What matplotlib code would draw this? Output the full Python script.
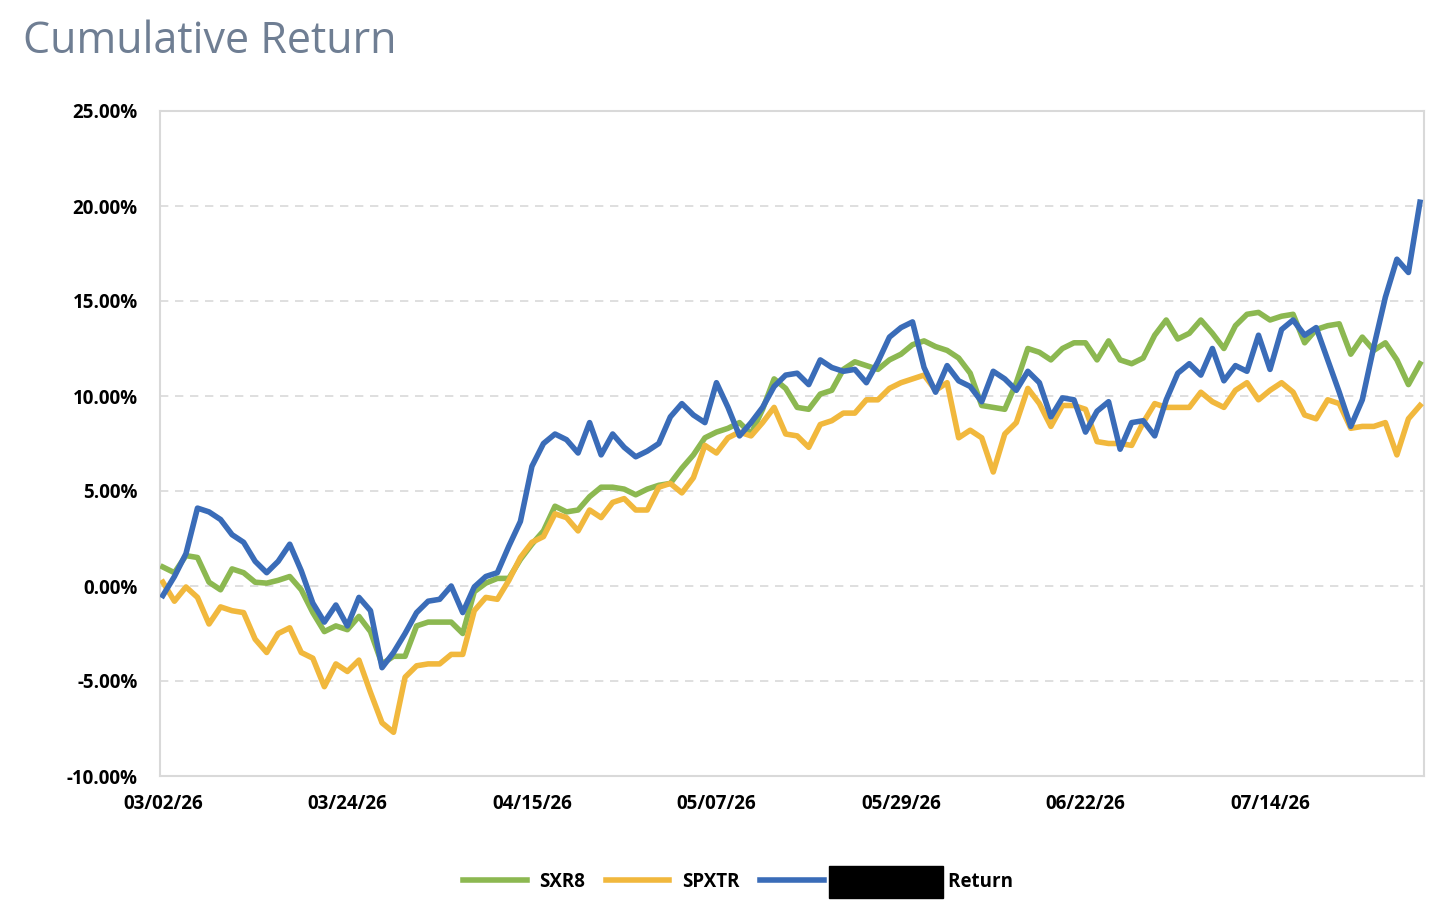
import numpy as np
import matplotlib
matplotlib.use("Agg")
import matplotlib.pyplot as plt
from matplotlib.patches import Rectangle
from matplotlib.ticker import FuncFormatter

plt.rcParams['font.family'] = ['Open Sans', 'DejaVu Sans']

# cumulative returns in %, one value per trading day from 03/02/26
sxr8 = [1.0, 0.7, 1.6, 1.5, 0.2, -0.2, 0.9, 0.7, 0.2, 0.15,
        0.3, 0.5, -0.2, -1.4, -2.4, -2.1, -2.3, -1.6, -2.4, -4.1,
        -3.7, -3.7, -2.1, -1.9, -1.9, -1.9, -2.5, -0.3, 0.15, 0.4,
        0.4, 1.4, 2.2, 2.9, 4.2, 3.9, 4.0, 4.7, 5.2, 5.2,
        5.1, 4.8, 5.1, 5.3, 5.4, 6.2, 6.9, 7.8, 8.1, 8.3,
        8.6, 8.0, 9.3, 10.9, 10.4, 9.4, 9.3, 10.1, 10.3, 11.4,
        11.8, 11.6, 11.4, 11.9, 12.2, 12.7, 12.9, 12.6, 12.4, 12.0,
        11.2, 9.5, 9.4, 9.3, 10.7, 12.5, 12.3, 11.9, 12.5, 12.8,
        12.8, 11.9, 12.9, 11.9, 11.7, 12.0, 13.2, 14.0, 13.0, 13.3,
        14.0, 13.3, 12.5, 13.7, 14.3, 14.4, 14.0, 14.2, 14.3, 12.8,
        13.5, 13.7, 13.8, 12.2, 13.1, 12.4, 12.8, 11.9, 10.6, 11.7]

spxtr = [0.2, -0.8, -0.05, -0.6, -2.0, -1.1, -1.3, -1.4, -2.8, -3.5,
         -2.5, -2.2, -3.5, -3.8, -5.3, -4.1, -4.5, -3.9, -5.6, -7.2,
         -7.7, -4.8, -4.2, -4.1, -4.1, -3.6, -3.6, -1.3, -0.6, -0.7,
         0.3, 1.5, 2.3, 2.6, 3.8, 3.6, 2.9, 4.0, 3.6, 4.4,
         4.6, 4.0, 4.0, 5.2, 5.4, 4.9, 5.7, 7.4, 7.0, 7.8,
         8.1, 7.9, 8.6, 9.4, 8.0, 7.9, 7.3, 8.5, 8.7, 9.1,
         9.1, 9.8, 9.8, 10.4, 10.7, 10.9, 11.1, 10.3, 10.7, 7.8,
         8.2, 7.8, 6.0, 8.0, 8.6, 10.4, 9.6, 8.4, 9.5, 9.5,
         9.3, 7.6, 7.5, 7.5, 7.4, 8.6, 9.6, 9.4, 9.4, 9.4,
         10.2, 9.7, 9.4, 10.3, 10.7, 9.8, 10.3, 10.7, 10.2, 9.0,
         8.8, 9.8, 9.6, 8.3, 8.4, 8.4, 8.6, 6.9, 8.8, 9.5]

portfolio = [-0.5, 0.5, 1.7, 4.1, 3.9, 3.5, 2.7, 2.3, 1.3, 0.7,
             1.3, 2.2, 0.8, -0.9, -1.9, -1.0, -2.1, -0.6, -1.3, -4.3,
             -3.5, -2.5, -1.4, -0.8, -0.7, 0.0, -1.4, -0.05, 0.5, 0.7,
             2.1, 3.4, 6.3, 7.5, 8.0, 7.7, 7.0, 8.6, 6.9, 8.0,
             7.3, 6.8, 7.1, 7.5, 8.9, 9.6, 9.0, 8.6, 10.7, 9.4,
             7.9, 8.6, 9.4, 10.5, 11.1, 11.2, 10.6, 11.9, 11.5, 11.3,
             11.4, 10.7, 11.8, 13.1, 13.6, 13.9, 11.5, 10.2, 11.6, 10.8,
             10.5, 9.7, 11.3, 10.9, 10.3, 11.3, 10.7, 8.9, 9.9, 9.8,
             8.1, 9.2, 9.7, 7.2, 8.6, 8.7, 7.9, 9.8, 11.2, 11.7,
             11.1, 12.5, 10.8, 11.6, 11.3, 13.2, 11.4, 13.5, 14.0, 13.2,
             13.6, 11.9, 10.2, 8.4, 9.8, 12.6, 15.2, 17.2, 16.5, 20.2]

date_labels = ['03/02/26', '03/24/26', '04/15/26', '05/07/26',
               '05/29/26', '06/22/26', '07/14/26']
label_every = 16

green = '#8cb851'
yellow = '#f1b83d'
blue = '#3a6cb8'
grid_col = '#d9d9d9'

W, H = 1456, 923
fig = plt.figure(figsize=(W / 100, H / 100), dpi=100)
ax = fig.add_axes([160 / W, 1 - 776 / H, (1424 - 160) / W, (776 - 111) / H])

x = np.arange(len(sxr8))
lw = 4.0
ax.plot(x, sxr8, color=green, lw=lw, solid_joinstyle='round', label='SXR8', zorder=3)
ax.plot(x, spxtr, color=yellow, lw=lw, solid_joinstyle='round', label='SPXTR', zorder=4)
ax.plot(x, portfolio, color=blue, lw=lw, solid_joinstyle='round', label=' ' * 23 + 'Return', zorder=5)

ax.set_ylim(-10, 25)
ax.set_yticks(np.arange(-10, 26, 5))
ax.yaxis.set_major_formatter(FuncFormatter(lambda v, p: f'{v:.2f}%'))
ax.set_xticks(x[::label_every])
ax.set_xticklabels(date_labels)
ax.set_xlim(-0.25, len(x) - 1 + 0.35)

ax.grid(axis='y', color=grid_col, linestyle=(0, (5, 4)), linewidth=1.2)
ax.set_axisbelow(True)
for s in ax.spines.values():
    s.set_color(grid_col)
    s.set_linewidth(1.5)

ax.tick_params(axis='y', length=0, labelsize=13.5, pad=16)
ax.tick_params(axis='x', length=0, labelsize=13.5, pad=13)
for lab in ax.get_xticklabels() + ax.get_yticklabels():
    lab.set_fontweight('bold')

fig.text(23 / W, 1 - 53 / H, 'Cumulative Return', fontsize=31,
         color='#6f7e93', ha='left', va='baseline')

leg = fig.legend(loc='center', bbox_to_anchor=(738 / W, 1 - 882 / H), ncol=3,
                 frameon=False, handlelength=3.4, handletextpad=0.65,
                 columnspacing=1.1, prop={'size': 13.5, 'weight': 'bold'})

# redaction box in front of the third legend label
fig.canvas.draw()
bb = leg.get_texts()[2].get_window_extent(fig.canvas.get_renderer())
yc = (bb.y0 + bb.y1) / 2
fig.add_artist(Rectangle(((bb.x0 - 7) / W, (yc - 16) / H), 114 / W, 32 / H,
                         transform=fig.transFigure, color='black', zorder=10))

fig.savefig('out.png', dpi=100)
